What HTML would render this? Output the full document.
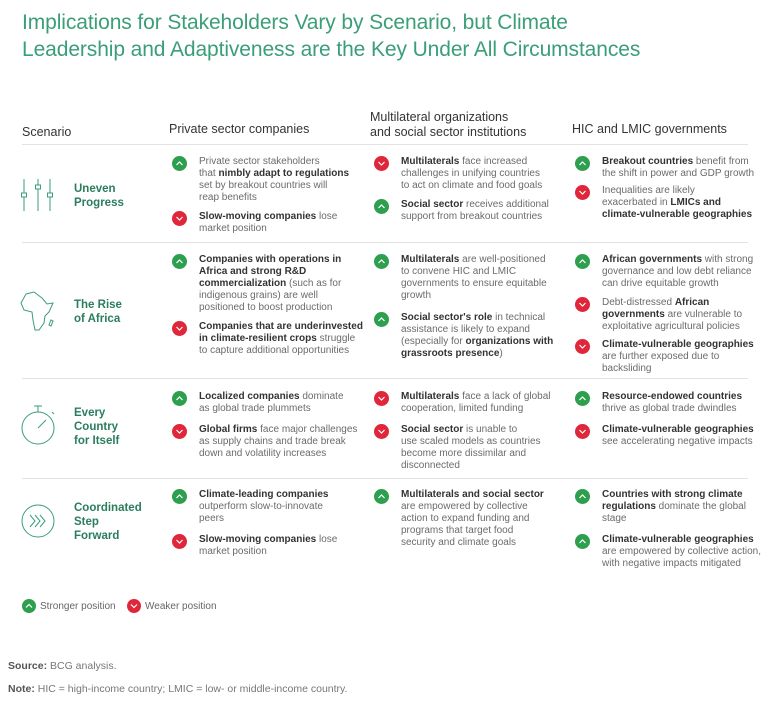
<!DOCTYPE html>
<html><head><meta charset="utf-8"><style>
body{margin:0;width:768px;height:720px;background:#fff;font-family:"Liberation Sans",sans-serif;position:relative;overflow:hidden}
.a{position:absolute}
h1{position:absolute;left:22px;top:9px;margin:0;font-weight:normal;font-size:21px;line-height:27px;color:#3a9e78;letter-spacing:-0.1px}
.hd{position:absolute;font-size:12.5px;color:#333;line-height:15px}
.sep{position:absolute;left:22px;width:726px;height:1px;background:#e2e2e2}
.it{position:absolute;font-size:10px;line-height:12.1px;color:#6b6b6b;width:170px}
.it b{color:#333;font-weight:bold}
.ic{position:absolute;left:-27px;top:0px;width:15px;height:15px;border-radius:50%}
.up{background:#2e9e4f}.dn{background:#e0263a}
.ic svg{position:absolute;left:0;top:0}
.sn{position:absolute;left:74px;font-size:11.5px;font-weight:bold;color:#2a7d5d;line-height:14px}
.foot{position:absolute;left:8px;font-size:10.5px;color:#777}
.foot b{color:#555}
</style></head><body>
<h1>Implications for Stakeholders Vary by Scenario, but Climate<br>Leadership and Adaptiveness are the Key Under All Circumstances</h1>
<div class="hd" style="left:22px;top:125px">Scenario</div>
<div class="hd" style="left:169px;top:122px">Private sector companies</div>
<div class="hd" style="left:370px;top:110px">Multilateral organizations<br>and social sector institutions</div>
<div class="hd" style="left:572px;top:122px">HIC and LMIC governments</div>
<div class="sep" style="top:144px"></div>
<div class="sep" style="top:242px"></div>
<div class="sep" style="top:378px"></div>
<div class="sep" style="top:478px"></div>

<svg class="a" style="left:20px;top:178px" width="36" height="34" fill="none" stroke="#3a9e78" stroke-width="1">
<line x1="4" y1="1" x2="4" y2="33"/><rect x="1.5" y="15" width="5" height="4" fill="#fff"/>
<line x1="18" y1="1" x2="18" y2="33"/><rect x="15.5" y="7" width="5" height="4" fill="#fff"/>
<line x1="30" y1="1" x2="30" y2="33"/><rect x="27.5" y="15" width="5" height="4" fill="#fff"/></svg>
<svg class="a" style="left:20px;top:290px" width="36" height="42" fill="none" stroke="#3a9e78" stroke-width="1">
<path d="M6 4 L14 2 L18 5 L22 8 L27 14 L33 13 L29 22 L25 26 L24 33 L19 40 L15 40 L13 30 L12 22 L4 20 L1 13 Z"/><path d="M31 30 L33 31 L31 36 L29 35 Z"/></svg>
<svg class="a" style="left:20px;top:404px" width="38" height="42" fill="none" stroke="#3a9e78" stroke-width="1">
<circle cx="18" cy="24" r="16"/><line x1="14" y1="2" x2="22" y2="2"/><line x1="18" y1="2" x2="18" y2="8"/><line x1="18" y1="24" x2="26" y2="16"/><line x1="32" y1="8" x2="34" y2="10"/></svg>
<svg class="a" style="left:20px;top:503px" width="36" height="36" fill="none" stroke="#3a9e78" stroke-width="1">
<circle cx="18" cy="18" r="16"/><path d="M10 12 L15 18 L10 24 M15 12 L20 18 L15 24 M20 12 L25 18 L20 24"/></svg>

<div class="sn" style="top:182px">Uneven<br>Progress</div>
<div class="sn" style="top:298px">The Rise<br>of Africa</div>
<div class="sn" style="top:406px">Every<br>Country<br>for Itself</div>
<div class="sn" style="top:501px">Coordinated<br>Step<br>Forward</div>

<div id="items"></div>

<div class="a" style="left:22px;top:599px;width:14px;height:14px;border-radius:50%;background:#2e9e4f"><svg width="14" height="14"><path d="M4 8.5 L7 5.5 L10 8.5" stroke="#fff" fill="none" stroke-width="1.2"/></svg></div>
<div class="a" style="left:40px;top:601px;font-size:10px;color:#666">Stronger position</div>
<div class="a" style="left:127px;top:599px;width:14px;height:14px;border-radius:50%;background:#e0263a"><svg width="14" height="14"><path d="M4 5.5 L7 8.5 L10 5.5" stroke="#fff" fill="none" stroke-width="1.2"/></svg></div>
<div class="a" style="left:145px;top:601px;font-size:10px;color:#666">Weaker position</div>

<div class="foot" style="top:660px"><b>Source:</b> BCG analysis.</div>
<div class="foot" style="top:683px"><b>Note:</b> HIC = high-income country; LMIC = low- or middle-income country.</div>

<script>
const colX=[199,401,602];
const items=[
[0,156,1,'Private sector stakeholders<br>that <b>nimbly adapt to regulations</b><br>set by breakout countries will<br>reap benefits'],
[0,211,0,'<b>Slow-moving companies</b> lose<br>market position'],
[1,156,0,'<b>Multilaterals</b> face increased<br>challenges in unifying countries<br>to act on climate and food goals'],
[1,199,1,'<b>Social sector</b> receives additional<br>support from breakout countries'],
[2,156,1,'<b>Breakout countries</b> benefit from<br>the shift in power and GDP growth'],
[2,185,0,'Inequalities are likely<br>exacerbated in <b>LMICs and<br>climate-vulnerable geographies</b>'],
[0,254,1,'<b>Companies with operations in<br>Africa and strong R&amp;D<br>commercialization</b> (such as for<br>indigenous grains) are well<br>positioned to boost production'],
[0,321,0,'<b>Companies that are underinvested<br>in climate-resilient crops</b> struggle<br>to capture additional opportunities'],
[1,254,1,'<b>Multilaterals</b> are well-positioned<br>to convene HIC and LMIC<br>governments to ensure equitable<br>growth'],
[1,312,1,'<b>Social sector\'s role</b> in technical<br>assistance is likely to expand<br>(especially for <b>organizations with<br>grassroots presence</b>)'],
[2,254,1,'<b>African governments</b> with strong<br>governance and low debt reliance<br>can drive equitable growth'],
[2,297,0,'Debt-distressed <b>African<br>governments</b> are vulnerable to<br>exploitative agricultural policies'],
[2,339,0,'<b>Climate-vulnerable geographies</b><br>are further exposed due to<br>backsliding'],
[0,391,1,'<b>Localized companies</b> dominate<br>as global trade plummets'],
[0,424,0,'<b>Global firms</b> face major challenges<br>as supply chains and trade break<br>down and volatility increases'],
[1,391,0,'<b>Multilaterals</b> face a lack of global<br>cooperation, limited funding'],
[1,424,0,'<b>Social sector</b> is unable to<br>use scaled models as countries<br>become more dissimilar and<br>disconnected'],
[2,391,1,'<b>Resource-endowed countries</b><br>thrive as global trade dwindles'],
[2,424,0,'<b>Climate-vulnerable geographies</b><br>see accelerating negative impacts'],
[0,489,1,'<b>Climate-leading companies</b><br>outperform slow-to-innovate<br>peers'],
[0,534,0,'<b>Slow-moving companies</b> lose<br>market position'],
[1,489,1,'<b>Multilaterals and social sector</b><br>are empowered by collective<br>action to expand funding and<br>programs that target food<br>security and climate goals'],
[2,489,1,'<b>Countries with strong climate<br>regulations</b> dominate the global<br>stage'],
[2,534,1,'<b>Climate-vulnerable geographies</b><br>are empowered by collective action,<br>with negative impacts mitigated']
];
const box=document.getElementById('items');
items.forEach(([c,t,up,h])=>{
  const d=document.createElement('div');
  d.className='it';
  
  
  d.style.left=colX[c]+'px';d.style.top=t+'px';
  d.innerHTML=h;
  const i=document.createElement('div');
  i.className='ic '+(up?'up':'dn');
  
  
  i.innerHTML=up?'<svg width="15" height="15"><path d="M4.5 9 L7.5 6 L10.5 9" stroke="#fff" fill="none" stroke-width="1.2"/></svg>':'<svg width="15" height="15"><path d="M4.5 6 L7.5 9 L10.5 6" stroke="#fff" fill="none" stroke-width="1.2"/></svg>';
  d.appendChild(i);
  box.appendChild(d);
});
</script>
</body></html>
